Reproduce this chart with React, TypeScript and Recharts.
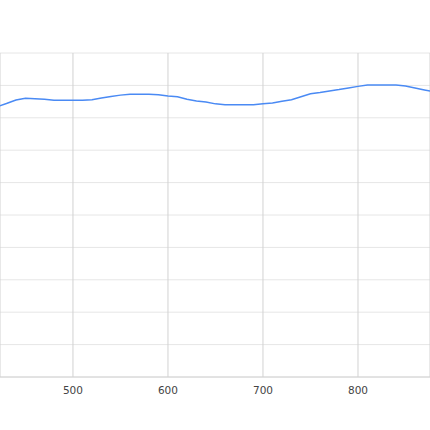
import React from "react";
import { LineChart, Line, XAxis, YAxis, CartesianGrid } from "recharts";

const xValues = [
  420, 430, 440, 450, 460, 470, 480, 490, 500, 510, 520, 530, 540, 550, 560, 570,
  580, 590, 600, 610, 620, 630, 640, 650, 660, 670, 680, 690, 700, 710, 720, 730,
  740, 750, 760, 770, 780, 790, 800, 810, 820, 830, 840, 850, 860, 870, 880,
];
const yValues = [
  8.34, 8.44, 8.55, 8.6, 8.59, 8.57, 8.54, 8.54, 8.54, 8.54, 8.56, 8.61, 8.66, 8.7, 8.73, 8.73,
  8.73, 8.71, 8.67, 8.65, 8.57, 8.52, 8.49, 8.43, 8.4, 8.4, 8.4, 8.4, 8.43, 8.46, 8.51, 8.56,
  8.65, 8.74, 8.78, 8.83, 8.87, 8.92, 8.97, 9.01, 9.01, 9.01, 9.01, 8.98, 8.92, 8.86, 8.8,
];
const xTicks = [500, 600, 700, 800];
const yTicks = [0, 1, 2, 3, 4, 5, 6, 7, 8, 9, 10];

const data = xValues.map((x, i) => ({ x, y: yValues[i] }));

export default function App() {
  return (
    <div style={{ position: "absolute", left: 0, top: 0, width: 430, height: 430, background: "#fff" }}>
      <LineChart
        width={430}
        height={430}
        data={data}
        margin={{ top: 53, right: 0, bottom: 0, left: 0 }}
      >
        <CartesianGrid horizontal={true} vertical={false} stroke="#e6e6e6" />
        <CartesianGrid horizontal={false} vertical={true} stroke="#d2d2d2" />
        <XAxis
          dataKey="x"
          type="number"
          domain={[423.2, 875.8]}
          allowDataOverflow
          ticks={xTicks}
          height={53}
          tickSize={0}
          tickMargin={10}
          axisLine={{ stroke: "#d2d2d2" }}
          tickLine={false}
          tick={{ fill: "#444", fontSize: 10.5, fontFamily: "DejaVu Sans" }}
        />
        <YAxis hide type="number" domain={[0, 10]} ticks={yTicks} width={0} />
        <Line
          type="linear"
          dataKey="y"
          stroke="#4a8af4"
          strokeWidth={1.5}
          dot={false}
          isAnimationActive={false}
        />
      </LineChart>
    </div>
  );
}
